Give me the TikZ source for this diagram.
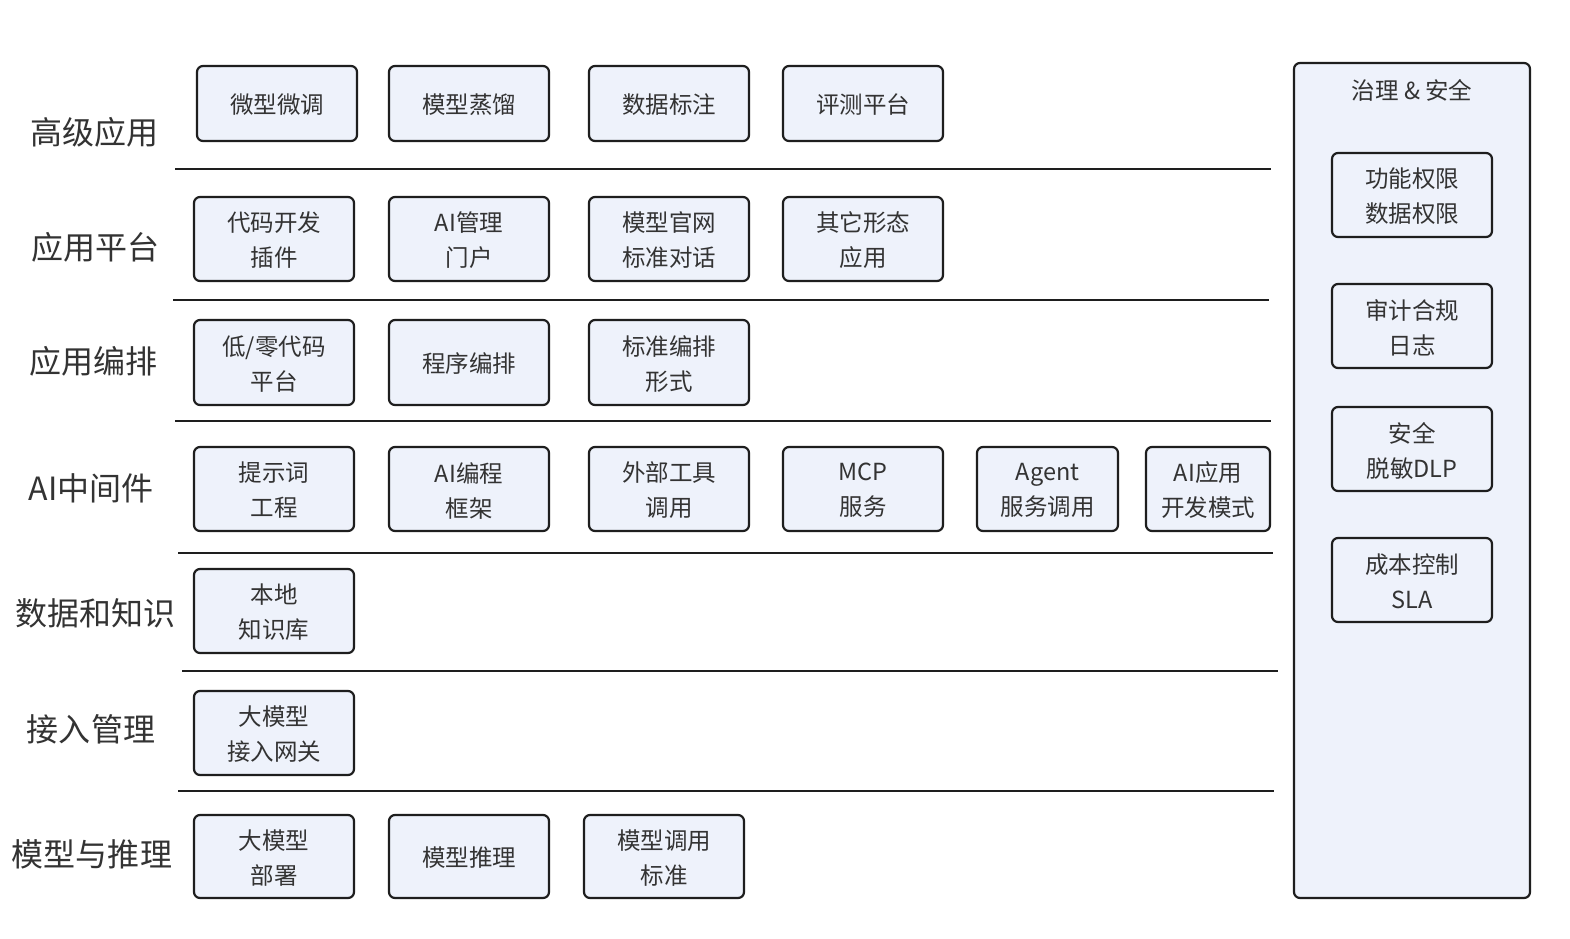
\documentclass[tikz,border=0pt]{standalone}
\usepackage{fontspec}
\setmainfont{Noto Sans CJK SC}
\newfontfamily\cjk{Noto Sans CJK SC}
\definecolor{boxfill}{HTML}{EEF2FB}
\definecolor{boxdraw}{HTML}{1E1E1E}
\definecolor{txt}{HTML}{333333}
\begin{document}
\begin{tikzpicture}[x=1pt,y=-1pt,
  box/.style={draw=boxdraw,fill=boxfill,line width=2.2pt,rounded corners=6pt,inner sep=0pt,outer sep=0pt,
    align=center,text=txt,font=\cjk\fontsize{23.5}{35}\selectfont},
  boxtext/.style={align=center,text=txt,font=\cjk\fontsize{23.5}{35}\selectfont,inner sep=0pt},
  layerlabel/.style={text=txt,font=\cjk\fontsize{32}{38}\selectfont,inner sep=0pt},
  divider/.style={draw=boxdraw,line width=2.4pt}]
\useasboundingbox[fill=white] (0,0) rectangle (1570,938);

\newcommand{\mybox}[6]{\node[box,minimum width={#4-#2},minimum height={#5-#3}] (#1) at ({(#2+#4)/2},{(#3+#5)/2}) {};
  \node[boxtext] (#1t) at ([yshift=-1.5pt]#1.center) {#6};}

% right panel
\node[draw=boxdraw,fill=boxfill,line width=2.2pt,rounded corners=6pt,inner sep=0pt,minimum width=236,minimum height=835] (panel) at (1412,480.5) {};
\node[text=txt,font=\cjk\fontsize{23.5}{28}\selectfont] (ptitle) at (1412,90) {治理 \& 安全};
\mybox{g1}{1332}{153}{1492}{237}{功能权限\\数据权限}
\mybox{g2}{1332}{284}{1492}{368}{审计合规\\日志}
\mybox{g3}{1332}{407}{1492}{491}{安全\\脱敏DLP}
\mybox{g4}{1332}{538}{1492}{622}{成本控制\\SLA}

% labels
\node[layerlabel] (l1) at (94,132) {高级应用};
\node[layerlabel] (l2) at (95,247) {应用平台};
\node[layerlabel] (l3) at (93,361) {应用编排};
\node[layerlabel] (l4) at (91,488) {AI中间件};
\node[layerlabel] (l5) at (95,613) {数据和知识};
\node[layerlabel] (l6) at (91,729) {接入管理};
\node[layerlabel] (l7) at (92,854) {模型与推理};

% row 1
\mybox{a1}{197}{66}{357}{141}{微型微调}
\mybox{a2}{389}{66}{549}{141}{模型蒸馏}
\mybox{a3}{589}{66}{749}{141}{数据标注}
\mybox{a4}{783}{66}{943}{141}{评测平台}
% row 2
\mybox{b1}{194}{197}{354}{281}{代码开发\\插件}
\mybox{b2}{389}{197}{549}{281}{AI管理\\门户}
\mybox{b3}{589}{197}{749}{281}{模型官网\\标准对话}
\mybox{b4}{783}{197}{943}{281}{其它形态\\应用}
% row 3
\mybox{c1}{194}{320}{354}{405}{低/零代码\\平台}
\mybox{c2}{389}{320}{549}{405}{程序编排}
\mybox{c3}{589}{320}{749}{405}{标准编排\\形式}
% row 4
\mybox{d1}{194}{447}{354}{531}{提示词\\工程}
\mybox{d2}{389}{447}{549}{531}{AI编程\\框架}
\mybox{d3}{589}{447}{749}{531}{外部工具\\调用}
\mybox{d4}{783}{447}{943}{531}{MCP\\服务}
\mybox{d5}{977}{447}{1118}{531}{Agent\\服务调用}
\mybox{d6}{1146}{447}{1270}{531}{AI应用\\开发模式}
% row 5
\mybox{e1}{194}{569}{354}{653}{本地\\知识库}
% row 6
\mybox{f1}{194}{691}{354}{775}{大模型\\接入网关}
% row 7
\mybox{h1}{194}{815}{354}{898}{大模型\\部署}
\mybox{h2}{389}{815}{549}{898}{模型推理}
\mybox{h3}{584}{815}{744}{898}{模型调用\\标准}

% dividers
\coordinate (s1) at (175,169); \coordinate (t1) at (1271,169);
\coordinate (s2) at (173,300); \coordinate (t2) at (1269,300);
\coordinate (s3) at (175,421); \coordinate (t3) at (1271,421);
\coordinate (s4) at (178,553); \coordinate (t4) at (1273,553);
\coordinate (s5) at (182,671); \coordinate (t5) at (1278,671);
\coordinate (s6) at (178,791); \coordinate (t6) at (1274,791);
\foreach \i in {1,...,6} {\draw[divider] (s\i) -- (t\i);}
\end{tikzpicture}
\end{document}
